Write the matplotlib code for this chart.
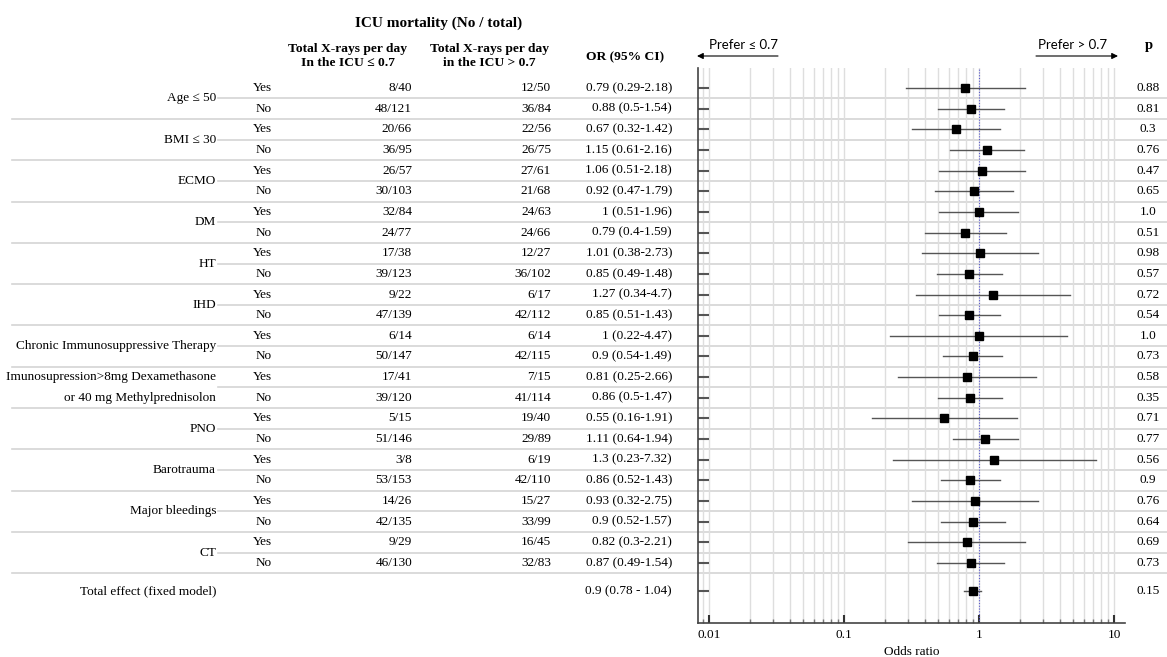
import numpy as np
import matplotlib
matplotlib.use("Agg")
import matplotlib.pyplot as plt
from matplotlib.ticker import FixedLocator, FixedFormatter, LogLocator, NullFormatter

# ---------------- data ----------------
groups = ["Age \u2264 50", "BMI \u2264 30", "ECMO", "DM", "HT", "IHD",
          "Chronic Immunosuppressive Therapy",
          "Imunosupression>8mg Dexamethasone\nor 40 mg Methylprednisolon",
          "PNO", "Barotrauma", "Major bleedings", "CT"]
subgroups = ["Yes", "No"]
col_low = ["8/40", "48/121", "20/66", "36/95", "26/57", "30/103", "32/84", "24/77",
           "17/38", "39/123", "9/22", "47/139", "6/14", "50/147", "17/41", "39/120",
           "5/15", "51/146", "3/8", "53/153", "14/26", "42/135", "9/29", "46/130"]
col_high = ["12/50", "36/84", "22/56", "26/75", "27/61", "21/68", "24/63", "24/66",
            "12/27", "36/102", "6/17", "42/112", "6/14", "42/115", "7/15", "41/114",
            "19/40", "29/89", "6/19", "42/110", "15/27", "33/99", "16/45", "32/83"]
odds = [0.79, 0.88, 0.67, 1.15, 1.06, 0.92, 1, 0.79, 1.01, 0.85, 1.27, 0.85,
        1, 0.9, 0.81, 0.86, 0.55, 1.11, 1.3, 0.86, 0.93, 0.9, 0.82, 0.87]
ci_lo = [0.29, 0.5, 0.32, 0.61, 0.51, 0.47, 0.51, 0.4, 0.38, 0.49, 0.34, 0.51,
         0.22, 0.54, 0.25, 0.5, 0.16, 0.64, 0.23, 0.52, 0.32, 0.52, 0.3, 0.49]
ci_hi = [2.18, 1.54, 1.42, 2.16, 2.18, 1.79, 1.96, 1.59, 2.73, 1.48, 4.7, 1.43,
         4.47, 1.49, 2.66, 1.47, 1.91, 1.94, 7.32, 1.43, 2.75, 1.57, 2.21, 1.54]
pvals = ["0.88", "0.81", "0.3", "0.76", "0.47", "0.65", "1.0", "0.51", "0.98", "0.57",
         "0.72", "0.54", "1.0", "0.73", "0.58", "0.35", "0.71", "0.77", "0.56", "0.9",
         "0.76", "0.64", "0.69", "0.73"]
total_label = "Total effect (fixed model)"
total_or, total_lo, total_hi, total_p = 0.9, 0.78, 1.04, "0.15"
xticks = [0.01, 0.1, 1, 10]
xtick_labels = ["0.01", "0.1", "1", "10"]

# ---------------- layout (pixels) ----------------
W, H = 1167, 657
SERIF = "Liberation Serif"
SANS = ["Lato", "DejaVu Sans"]
fs = 9.5
line_col = "#d4d4d4"

row0, dy = 88.0, 20.65
n = len(odds)
row_y = row0 + dy * np.arange(n)
total_y = 591.0

fig = plt.figure(figsize=(W / 100, H / 100), dpi=100)
tab = fig.add_axes([0, 0, 1, 1])
tab.set_xlim(0, W)
tab.set_ylim(H, 0)
tab.axis("off")

# header
tab.text(439, 23, "ICU mortality (No / total)", family=SERIF, fontsize=11,
         fontweight="bold", ha="center", va="center")
tab.text(348, 56, "Total X-rays per day\nIn the ICU \u2264 0.7", family=SERIF, fontsize=9.7,
         fontweight="bold", ha="center", va="center", linespacing=1.3)
tab.text(489, 56, "Total X-rays per day\nin the ICU > 0.7", family=SERIF, fontsize=9.7,
         fontweight="bold", ha="center", va="center", linespacing=1.3)
tab.text(625, 57, "OR (95% CI)", family=SERIF, fontsize=9.7, fontweight="bold",
         ha="center", va="center")
tab.text(1149, 45, "p", family=SERIF, fontsize=10.5, fontweight="bold",
         ha="center", va="center")

# rows
for i in range(n):
    y = row_y[i]
    tab.text(272, y, subgroups[i % 2], family=SERIF, fontsize=fs, ha="right", va="center")
    tab.text(412, y, col_low[i], family=SERIF, fontsize=fs, ha="right", va="center")
    tab.text(551, y, col_high[i], family=SERIF, fontsize=fs, ha="right", va="center")
    tab.text(672, y, f"{odds[i]:g} ({ci_lo[i]:g}-{ci_hi[i]:g})", family=SERIF,
             fontsize=fs, ha="right", va="center")
    tab.text(1148, y, pvals[i], family=SERIF, fontsize=fs, ha="center", va="center")

for g, name in enumerate(groups):
    y1, y2 = row_y[2 * g], row_y[2 * g + 1]
    lines = name.split("\n")
    if len(lines) == 1:
        tab.text(216, (y1 + y2) / 2, name, family=SERIF, fontsize=fs, ha="right", va="center")
    else:
        tab.text(216, y1, lines[0], family=SERIF, fontsize=fs, ha="right", va="center")
        tab.text(216, y2, lines[1], family=SERIF, fontsize=fs, ha="right", va="center")
    tab.plot([218, W], [(y1 + y2) / 2] * 2, color=line_col, lw=1.2, zorder=0)
    ysep = y2 + dy / 2
    tab.plot([12, W], [ysep, ysep], color=line_col, lw=1.2, zorder=0)

tab.text(216, total_y, total_label, family=SERIF, fontsize=fs, ha="right", va="center")
tab.text(672, total_y, f"{total_or:g} ({total_lo:g} - {total_hi:g})", family=SERIF,
         fontsize=fs, ha="right", va="center")
tab.text(1148, total_y, total_p, family=SERIF, fontsize=fs, ha="center", va="center")

# prefer arrows
tab.annotate("", xy=(697, 56), xytext=(778, 56),
             arrowprops=dict(arrowstyle="-|>", color="black", lw=0.8,
                             mutation_scale=9, shrinkA=0, shrinkB=0))
tab.text(709, 45, "Prefer \u2264 0.7", family=SANS, fontsize=9.5, ha="left", va="center")
tab.annotate("", xy=(1118, 56), xytext=(1036, 56),
             arrowprops=dict(arrowstyle="-|>", color="black", lw=0.8,
                             mutation_scale=9, shrinkA=0, shrinkB=0))
tab.text(1107, 45, "Prefer > 0.7", family=SANS, fontsize=9.5, ha="right", va="center")

# ---------------- forest panel ----------------
x0, x1, ytop, ybot = 698, 1125, 68, 623
ax = fig.add_axes([x0 / W, 1 - ybot / H, (x1 - x0) / W, (ybot - ytop) / H])
ax.set_facecolor("none")
ax.set_xscale("log")
ax.set_xlim(0.0083, 12.06)
ax.set_ylim(ybot, ytop)

ax.xaxis.set_major_locator(FixedLocator(xticks))
ax.xaxis.set_major_formatter(FixedFormatter(xtick_labels))
ax.xaxis.set_minor_locator(LogLocator(base=10, subs=np.arange(2, 10)))
ax.xaxis.set_minor_formatter(NullFormatter())
ax.grid(which="both", axis="x", color="#dedede", lw=1.0, zorder=0)
ax.set_axisbelow(True)

ax.set_yticks(list(row_y) + [total_y])
ax.tick_params(axis="y", direction="in", length=8, width=1.5, color="#555555",
               labelleft=False)
ax.tick_params(axis="x", which="major", direction="in", length=6, width=1.5,
               color="#333333", labelsize=fs, pad=4)
ax.tick_params(axis="x", which="minor", direction="in", length=3, width=1,
               color="#777777")
for lab in ax.get_xticklabels():
    lab.set_family(SERIF)
for s in ("top", "right"):
    ax.spines[s].set_visible(False)
for s in ("left", "bottom"):
    ax.spines[s].set_color("#444444")
    ax.spines[s].set_linewidth(1.2)

ax.axvline(1, color="#5a5ad0", ls=(0, (1, 1.5)), lw=0.8, zorder=1)

for i in range(n):
    ax.plot([ci_lo[i], ci_hi[i]], [row_y[i]] * 2, color="#555555", lw=1.0, zorder=2)
    ax.plot(odds[i], row_y[i], "s", color="black", ms=5.8, zorder=3)
ax.plot([total_lo, total_hi], [total_y] * 2, color="#555555", lw=1.0, zorder=2)
ax.plot(total_or, total_y, "s", color="black", ms=5.8, zorder=3)

ax.set_xlabel("Odds ratio", family=SERIF, fontsize=fs, labelpad=4)

fig.savefig("out.png", dpi=100)
